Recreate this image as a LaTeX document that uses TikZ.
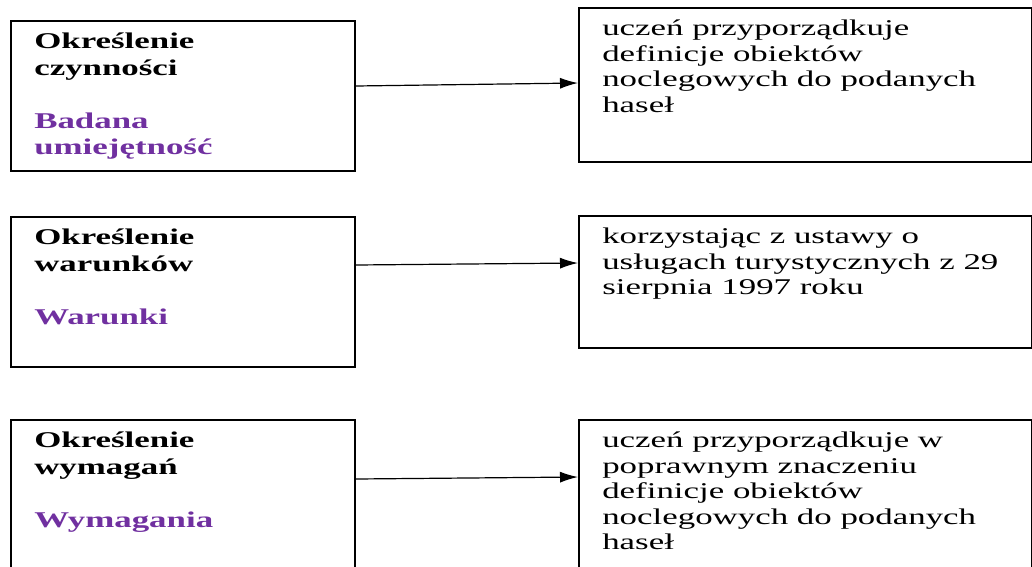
\documentclass[tikz,border=0pt]{standalone}
\usepackage{fontspec}
\setmainfont{Liberation Serif}[FakeStretch=1.55]
\usetikzlibrary{arrows.meta}
\definecolor{fiolet}{HTML}{7030A0}
% box with text starting at the top left
\newcommand{\ramka}[3]{\parbox[t][#2][t]{#1}{\leftskip=23.5pt\rule{0pt}{28pt}#3}}
\tikzset{
  pole/.style={draw, line width=1.6pt, inner sep=0pt, anchor=north west},
  nazwa/.style={pole, font=\fontsize{22.5}{26.5}\selectfont\bfseries},
  opis/.style={pole, font=\fontsize{22.5}{25.5}\selectfont},
  strzalka/.style={line width=1.2pt, -{Latex[length=18pt,width=11pt]}}
}
\begin{document}
\begin{tikzpicture}[x=1pt,y=-1pt]
\useasboundingbox (0,0) rectangle (1032,566);
\clip (0,0) rectangle (1032,566);

% left column
\node[nazwa] (czyn) at (10,20) {\ramka{344pt}{150pt}{Określenie\\czynności\\[26.5pt]\textcolor{fiolet}{Badana\\umiejętność}}};
\node[nazwa] (war) at (10,216) {\ramka{344pt}{150pt}{Określenie\\warunków\\[26.5pt]\textcolor{fiolet}{Warunki}}};
\node[nazwa] (wym) at (10,419) {\ramka{344pt}{170pt}{Określenie\\wymagań\\[26.5pt]\textcolor{fiolet}{Wymagania}}};

% right column
\node[opis] (opis1) at (578,7) {\ramka{453pt}{154pt}{uczeń przyporządkuje\\definicje obiektów\\noclegowych do podanych\\haseł}};
\node[opis] (opis2) at (578,215) {\ramka{453pt}{132pt}{korzystając z ustawy o\\usługach turystycznych z 29\\sierpnia 1997 roku}};
\node[opis] (opis3) at (578,419) {\ramka{453pt}{170pt}{uczeń przyporządkuje w\\poprawnym znaczeniu\\definicje obiektów\\noclegowych do podanych\\haseł}};

% arrows
\draw[strzalka] ([yshift=-66pt]czyn.north east) -- ([yshift=-76pt]opis1.north west);
\draw[strzalka] ([yshift=-49pt]war.north east) -- ([yshift=-48pt]opis2.north west);
\draw[strzalka] ([yshift=-60pt]wym.north east) -- ([yshift=-58pt]opis3.north west);
\end{tikzpicture}
\end{document}
